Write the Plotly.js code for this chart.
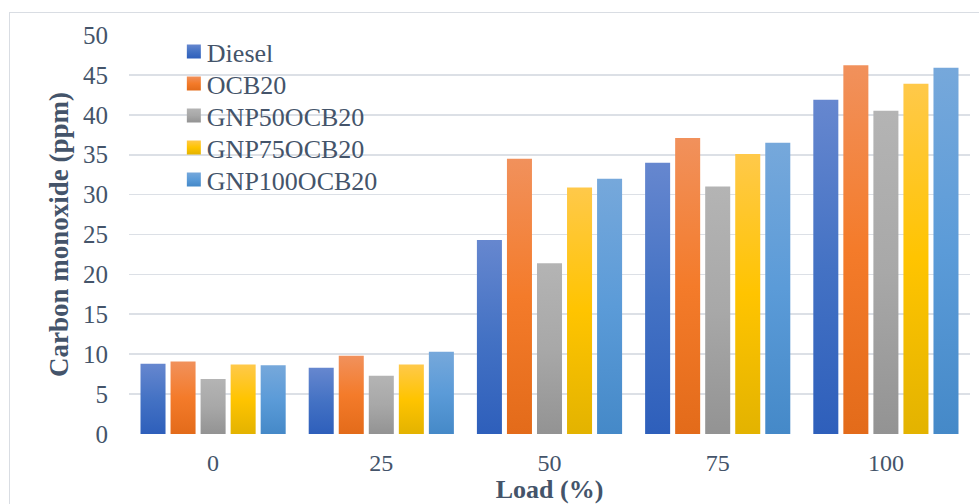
<!DOCTYPE html>
<html>
<head>
<meta charset="utf-8">
<script src="https://cdn.plot.ly/plotly-3.0.1.min.js"></script>
<style>
  html, body { margin: 0; padding: 0; background: #ffffff; }
  body { width: 979px; height: 504px; overflow: hidden; position: relative; }
  #frame { position: absolute; left: 9px; top: 12px; width: 1000px; height: 600px;
           border: 1.5px solid #D9DDE3; box-sizing: border-box; }
  #chart { position: absolute; left: 0; top: 0; width: 979px; height: 504px; }
</style>
</head>
<body>
<div id="frame"></div>
<div id="chart"></div>
<script>
// Engine load categories (%)
const loads = ['0', '25', '50', '75', '100'];

// Carbon monoxide emissions (ppm) per fuel blend
const diesel      = [8.8, 8.3, 24.3, 34.0, 41.9];
const ocb20       = [9.1, 9.8, 34.5, 37.1, 46.2];
const gnp50ocb20  = [6.9, 7.3, 21.4, 31.0, 40.5];
const gnp75ocb20  = [8.7, 8.7, 30.9, 35.1, 43.9];
const gnp100ocb20 = [8.6, 10.3, 32.0, 36.5, 45.9];

const seriesNames = ['Diesel', 'OCB20', 'GNP50OCB20', 'GNP75OCB20', 'GNP100OCB20'];
const seriesValues = [diesel, ocb20, gnp50ocb20, gnp75ocb20, gnp100ocb20];
const baseColors = ['#4472C4', '#F47B2A', '#A5A5A5', '#FFC000', '#5B9BD5'];

// Vertical gradient stops (top light -> bottom dark) for each series
const gradientStops = [
  [['0', '#6687CF'], ['0.5', '#4472C4'], ['1', '#2E5FBB']],
  [['0', '#F1915C'], ['0.5', '#F47B2A'], ['1', '#E36B1A']],
  [['0', '#B4B4B4'], ['0.5', '#A8A8A8'], ['1', '#939393']],
  [['0', '#FFC94A'], ['0.5', '#FFC400'], ['1', '#E3B300']],
  [['0', '#76A8DB'], ['0.5', '#5B9BD8'], ['1', '#4589C8']]
];

const textColor = '#44546A';
const serif = 'Liberation Serif, Times New Roman, serif';

// Legend row pitch (px) and symbol tweaks
const legendRowPitch = 32;
const legendSymbolHalf = 7;
const legendSymbolShift = 7;
// Extra horizontal nudge for the y-axis title (px)
const yTitleShift = -6;

const traces = seriesNames.map((name, i) => ({
  type: 'bar',
  name: name,
  x: loads,
  y: seriesValues[i],
  marker: { color: baseColors[i], line: { width: 0 } },
  hoverinfo: 'x+y+name'
}));

const layout = {
  width: 979,
  height: 504,
  margin: { l: 129, r: 9, t: 35, b: 70 },
  paper_bgcolor: 'rgba(0,0,0,0)',
  plot_bgcolor: 'rgba(0,0,0,0)',
  barmode: 'group',
  bargap: 0.107,
  bargroupgap: 0.167,
  font: { family: serif, color: textColor, size: 25 },
  showlegend: true,
  legend: {
    x: 0.045, xanchor: 'left',
    y: 1.0175, yanchor: 'top',
    bgcolor: 'rgba(0,0,0,0)',
    font: { family: serif, size: 26, color: textColor },
    itemclick: false, itemdoubleclick: false
  },
  xaxis: {
    type: 'category',
    showgrid: false,
    zeroline: false,
    showline: false,
    ticks: '',
    ticklabelstandoff: 12,
    tickfont: { family: serif, size: 24, color: textColor },
    title: { text: '<b>Load (%)</b>', font: { family: serif, size: 26, color: textColor }, standoff: 4 },
    automargin: false
  },
  yaxis: {
    range: [0, 50],
    dtick: 5,
    showgrid: true,
    gridcolor: '#DCE0E6',
    gridwidth: 1.6,
    zeroline: false,
    showline: false,
    ticks: '',
    ticklabelstandoff: 20,
    tickfont: { family: serif, size: 25, color: textColor },
    title: { text: '<b>Carbon monoxide (ppm)</b>', font: { family: serif, size: 27, color: textColor }, standoff: 0 },
    automargin: false
  }
};

// Replace the flat bar fills with per-bar vertical gradients and tidy the legend
function styleChart(gd) {
  const ns = 'http://www.w3.org/2000/svg';
  const svg = gd.querySelector('svg.main-svg');
  let defs = svg.querySelector('defs');
  if (!defs) { defs = document.createElementNS(ns, 'defs'); svg.insertBefore(defs, svg.firstChild); }
  gradientStops.forEach((stops, i) => {
    const lg = document.createElementNS(ns, 'linearGradient');
    lg.setAttribute('id', 'barfill' + i);
    lg.setAttribute('x1', '0'); lg.setAttribute('y1', '0');
    lg.setAttribute('x2', '0'); lg.setAttribute('y2', '1');
    stops.forEach(([off, col]) => {
      const st = document.createElementNS(ns, 'stop');
      st.setAttribute('offset', off);
      st.setAttribute('stop-color', col);
      lg.appendChild(st);
    });
    defs.appendChild(lg);
  });
  gd.querySelectorAll('.barlayer .trace.bars').forEach((g, i) => {
    g.querySelectorAll('path').forEach(p => { p.style.fill = 'url(#barfill' + i + ')'; });
  });

  const items = gd.querySelectorAll('.legend .traces');
  let y0 = null;
  items.forEach((g, i) => {
    const m = /translate\(\s*([-\d.]+)[ ,]+([-\d.]+)\s*\)/.exec(g.getAttribute('transform') || '');
    if (m) {
      const x = parseFloat(m[1]);
      const y = parseFloat(m[2]);
      if (y0 === null) y0 = y;
      g.setAttribute('transform', 'translate(' + x + ',' + (y0 + i * legendRowPitch) + ')');
    }
    const pts = g.querySelector('.legendpoints');
    if (pts) {
      const prev = pts.getAttribute('transform') || '';
      pts.setAttribute('transform', 'translate(' + legendSymbolShift + ',0) ' + prev);
      pts.querySelectorAll('path').forEach(p => {
        const h = legendSymbolHalf;
        p.setAttribute('d', 'M' + h + ',' + h + 'H-' + h + 'V-' + h + 'H' + h + 'Z');
        p.style.fill = 'url(#barfill' + i + ')';
      });
    }
  });

  const yTitle = gd.querySelector('.g-ytitle');
  if (yTitle) yTitle.setAttribute('transform', 'translate(' + yTitleShift + ',0)');
}

Plotly.newPlot('chart', traces, layout, { staticPlot: true, displayModeBar: false })
  .then(styleChart);
</script>
</body>
</html>
